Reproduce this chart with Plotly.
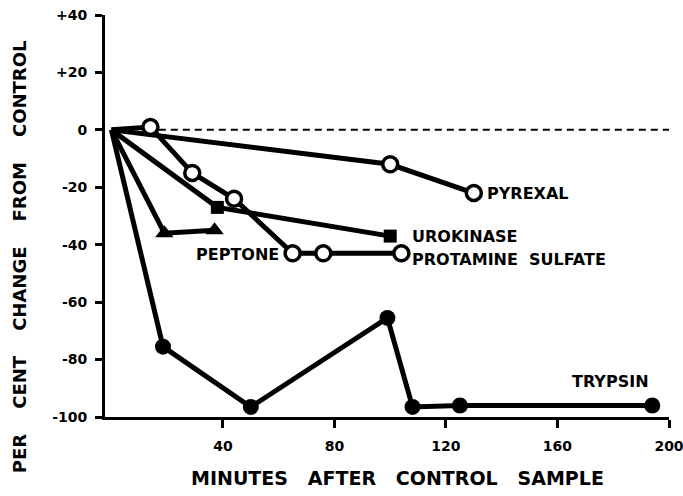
import plotly.graph_objects as go

# ---- data (minutes after control sample, per cent change from control) ----
pyrexal_min = [0, 100, 130]
pyrexal_pct = [0, -12, -22]

protamine_min = [0, 14, 29, 44, 65, 76, 104]
protamine_pct = [0, 1, -15, -24, -43, -43, -43]

urokinase_min = [0, 38, 100]
urokinase_pct = [0, -27, -37]

peptone_min = [0, 19, 37]
peptone_pct = [0, -36, -35]

trypsin_min = [0, 18.5, 50, 99, 108, 125, 194]
trypsin_pct = [0, -75.5, -96.5, -65.5, -96.5, -96, -96]

x_tick_vals = [40, 80, 120, 160, 200]
x_tick_text = ["40", "80", "120", "160", "200"]
y_tick_vals = [40, 20, 0, -20, -40, -60, -80, -100]
y_tick_text = ["+40", "+20", "0", "-20", "-40", "-60", "-80", "-100"]

FONT = "DejaVu Sans"
BLACK = "#000000"
LW = 5

fig = go.Figure()

def add_series(xs, ys, symbol, filled, size):
    fig.add_trace(go.Scatter(x=xs, y=ys, mode="lines",
                             line=dict(color=BLACK, width=LW),
                             hoverinfo="skip", cliponaxis=False))
    fig.add_trace(go.Scatter(x=xs[1:], y=ys[1:], mode="markers",
                             marker=dict(symbol=symbol, size=size,
                                         color=BLACK if filled else "white",
                                         line=dict(color=BLACK, width=3.5 if not filled else 0)),
                             cliponaxis=False))

add_series(pyrexal_min, pyrexal_pct, "circle", False, 15)
add_series(protamine_min, protamine_pct, "circle", False, 15)
add_series(urokinase_min, urokinase_pct, "square", True, 13)
add_series(peptone_min, peptone_pct, "triangle-up", True, 16)
add_series(trypsin_min, trypsin_pct, "circle", True, 16)

# control (zero) dashed reference line
fig.add_shape(type="line", xref="x", yref="y", x0=17, x1=202, y0=0, y1=0,
              line=dict(color=BLACK, width=2, dash="7px,5px"), layer="below")

lab_font = dict(family=FONT, size=16, color=BLACK, weight="bold")
def label(x, y, text, anchor="left"):
    fig.add_annotation(x=x, y=y, text=text, showarrow=False, xref="x", yref="y",
                       xanchor=anchor, yanchor="middle", font=lab_font)

label(pyrexal_min[-1] + 4, pyrexal_pct[-1], "PYREXAL")
label(urokinase_min[-1] + 7, urokinase_pct[-1], "UROKINASE")
label(protamine_min[-1] + 3, -45, "PROTAMINE  SULFATE")
label(protamine_min[4] - 4, -43.5, "PEPTONE", anchor="right")
label(179, -87.5, "TRYPSIN", anchor="center")

tick_font = dict(family=FONT, size=14, color=BLACK, weight="bold")

# axis titles as paper-positioned annotations
fig.add_annotation(text="MINUTES   AFTER   CONTROL   SAMPLE", xref="paper", yref="paper",
                   x=0.518, y=-0.152, xanchor="center", yanchor="middle", showarrow=False,
                   font=dict(family=FONT, size=19, color=BLACK, weight="bold"))
fig.add_annotation(text="PER    CENT    CHANGE    FROM    CONTROL", xref="paper", yref="paper",
                   x=-0.1525, y=0.40, xanchor="center", yanchor="middle", showarrow=False,
                   textangle=-90,
                   font=dict(family=FONT, size=18, color=BLACK, weight="bold"))

fig.update_layout(
    width=683, height=496,
    margin=dict(l=105, r=14, t=15, b=79),
    paper_bgcolor="white", plot_bgcolor="white",
    showlegend=False,
    xaxis=dict(range=[-2.3, 200], tickvals=x_tick_vals, ticktext=x_tick_text,
               automargin=False, ticklabeloverflow="allow",
               showgrid=False, zeroline=False, showline=True, linecolor=BLACK,
               linewidth=3, ticks="outside", ticklen=8, tickwidth=3,
               tickcolor=BLACK, tickfont=tick_font, ticklabelstandoff=6),
    yaxis=dict(range=[-100, 40], tickvals=y_tick_vals, ticktext=y_tick_text,
               automargin=False, ticklabeloverflow="allow",
               showgrid=False, zeroline=False, showline=True, linecolor=BLACK,
               linewidth=3, ticks="outside", ticklen=7, tickwidth=3,
               tickcolor=BLACK, tickfont=tick_font, ticklabelstandoff=5),
)

fig.write_html("out.html", config={"displayModeBar": False},
               post_script="document.body.style.margin='0';document.body.style.overflow='hidden';")
